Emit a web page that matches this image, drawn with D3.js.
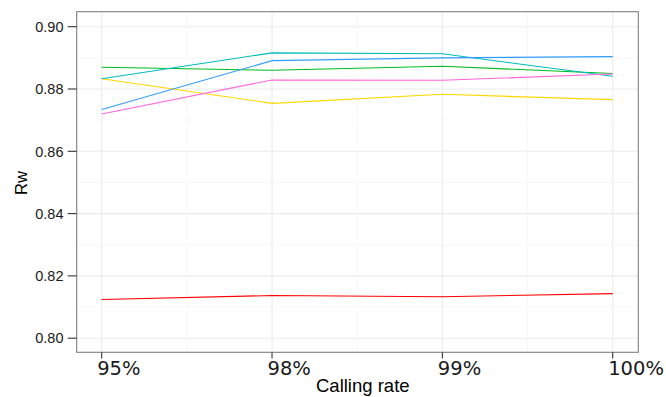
<!DOCTYPE html>
<html><head><meta charset="utf-8">
<script src="https://cdn.jsdelivr.net/npm/d3@7"></script>
<style>html,body{margin:0;padding:0;background:#fff;}svg{display:block;}</style>
</head><body>
<svg id="c" width="666" height="397"></svg>
<script>
const categories = ["95%", "98%", "99%", "100%"];
const yTicks = [0.80, 0.82, 0.84, 0.86, 0.88, 0.90];
const yMinor = [0.81, 0.83, 0.85, 0.87, 0.89];
const redVals    = [0.8124, 0.8137, 0.8133, 0.8143];
const yellowVals = [0.8833, 0.8754, 0.8783, 0.8766];
const greenVals  = [0.8870, 0.8860, 0.8873, 0.8850];
const cyanVals   = [0.8833, 0.8916, 0.8913, 0.8841];
const blueVals   = [0.8734, 0.8891, 0.8900, 0.8904];
const pinkVals   = [0.8720, 0.8829, 0.8828, 0.8848];
const seriesNames  = ["red", "yellow", "green", "cyan", "blue", "pink"];
const seriesColors = ["#FF0000", "#FFD700", "#00BB22", "#00BBBB", "#2F9BFF", "#FF66DD"];
const seriesValues = [redVals, yellowVals, greenVals, cyanVals, blueVals, pinkVals];

const svg = d3.select("#c");
const P = {l: 76.7, r: 638.3, t: 11.7, b: 352.3};
const x = d3.scalePoint().domain(categories).range([101.7, 612.7]);
const y = d3.scaleLinear().domain([0.80, 0.90]).range([338.2, 26.7]);

// panel grid
const g = svg.append("g");
const xs = categories.map(c => x(c));
const xMid = xs.slice(0, -1).map((v, i) => (v + xs[i + 1]) / 2);
g.selectAll(".ymin").data(yMinor).enter().append("line")
  .attr("x1", P.l).attr("x2", P.r).attr("y1", d => y(d)).attr("y2", d => y(d))
  .attr("stroke", "#F7F7F7").attr("stroke-width", 1);
g.selectAll(".xmin").data(xMid).enter().append("line")
  .attr("x1", d => d).attr("x2", d => d).attr("y1", P.t).attr("y2", P.b)
  .attr("stroke", "#F7F7F7").attr("stroke-width", 1);
g.selectAll(".ymaj").data(yTicks).enter().append("line")
  .attr("x1", P.l).attr("x2", P.r).attr("y1", d => y(d)).attr("y2", d => y(d))
  .attr("stroke", "#EBEBEB").attr("stroke-width", 1.1);
g.selectAll(".xmaj").data(categories).enter().append("line")
  .attr("x1", d => x(d)).attr("x2", d => x(d)).attr("y1", P.t).attr("y2", P.b)
  .attr("stroke", "#EBEBEB").attr("stroke-width", 1.1);

// lines
const line = d3.line().x((d, i) => x(categories[i])).y(d => y(d));
svg.selectAll(".series").data(seriesValues).enter().append("path")
  .attr("d", d => line(d)).attr("fill", "none")
  .attr("stroke", (d, i) => seriesColors[i]).attr("stroke-width", 1.1);

// border
svg.append("rect").attr("x", P.l).attr("y", P.t).attr("width", P.r - P.l).attr("height", P.b - P.t)
  .attr("fill", "none").attr("stroke", "#7F7F7F").attr("stroke-width", 1.1);

// y axis
const ya = svg.append("g");
ya.selectAll("line").data(yTicks).enter().append("line")
  .attr("x1", 67.7).attr("x2", P.l).attr("y1", d => y(d)).attr("y2", d => y(d))
  .attr("stroke", "#333").attr("stroke-width", 1.1);
ya.selectAll("text").data(yTicks).enter().append("text")
  .attr("x", 63.5).attr("y", d => y(d)).attr("dy", "0.36em")
  .attr("text-anchor", "end").attr("font-family", "Liberation Sans, Arial, sans-serif")
  .attr("font-size", 14.5).attr("fill", "#1a1a1a").text(d => d3.format(".2f")(d));

// x axis
const xa = svg.append("g");
xa.selectAll("line").data(categories).enter().append("line")
  .attr("x1", d => x(d)).attr("x2", d => x(d)).attr("y1", P.b).attr("y2", 358.5)
  .attr("stroke", "#333").attr("stroke-width", 1.1);
xa.selectAll("text").data(categories).enter().append("text")
  .attr("x", d => x(d) - 4.5).attr("y", 375)
  .attr("text-anchor", "start").attr("font-family", "DejaVu Sans, sans-serif")
  .attr("font-size", 19.5).attr("fill", "#1a1a1a").text(d => d);

// titles
svg.append("text").attr("x", 316).attr("y", 392)
  .attr("font-family", "Liberation Sans, Arial, sans-serif").attr("font-size", 18.5)
  .attr("fill", "#000").text("Calling rate");
svg.append("text").attr("transform", "translate(27,183) rotate(-90)")
  .attr("text-anchor", "middle")
  .attr("font-family", "Liberation Sans, Arial, sans-serif").attr("font-size", 16.5)
  .attr("fill", "#000").text("Rw");
</script>
</body></html>
